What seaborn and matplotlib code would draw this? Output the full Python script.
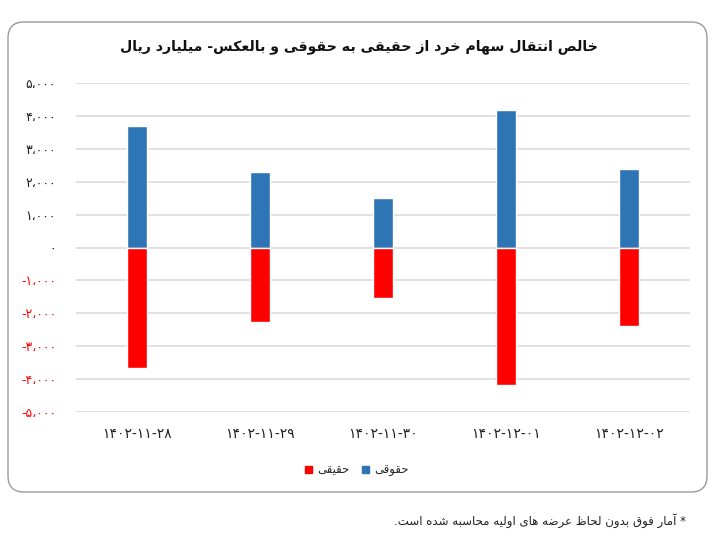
import pandas as pd
import matplotlib
matplotlib.use("Agg")
import matplotlib.pyplot as plt
import seaborn as sns
from matplotlib.patches import FancyBboxPatch, Patch
from matplotlib.ticker import FixedLocator

# داده ها (میلیارد ریال)
dates = ["1402-11-28", "1402-11-29", "1402-11-30", "1402-12-01", "1402-12-02"]
hoghoughi = [3680, 2290, 1510, 4180, 2380]      # آبی
haghighi = [-3670, -2270, -1520, -4190, -2390]  # قرمز

title_txt = "خالص انتقال سهام خرد از حقیقی به حقوقی و بالعکس- میلیارد ریال"
label_haghighi = "حقیقی"
label_hoghoughi = "حقوقی"
note_txt = "* آمار فوق بدون لحاظ عرضه های اولیه محاسبه شده است."

# شکل دهی ساده حروف فارسی (matplotlib خودش این کار را نمی کند)
FORMS = {
    "ا": ("\uFE8D", "\uFE8E"),
    "آ": ("\uFE81", "\uFE82"),
    "ب": ("\uFE8F", "\uFE90", "\uFE91", "\uFE92"),
    "ت": ("\uFE95", "\uFE96", "\uFE97", "\uFE98"),
    "ح": ("\uFEA1", "\uFEA2", "\uFEA3", "\uFEA4"),
    "خ": ("\uFEA5", "\uFEA6", "\uFEA7", "\uFEA8"),
    "د": ("\uFEA9", "\uFEAA"),
    "ر": ("\uFEAD", "\uFEAE"),
    "ز": ("\uFEAF", "\uFEB0"),
    "س": ("\uFEB1", "\uFEB2", "\uFEB3", "\uFEB4"),
    "ش": ("\uFEB5", "\uFEB6", "\uFEB7", "\uFEB8"),
    "ص": ("\uFEB9", "\uFEBA", "\uFEBB", "\uFEBC"),
    "ض": ("\uFEBD", "\uFEBE", "\uFEBF", "\uFEC0"),
    "ظ": ("\uFEC5", "\uFEC6", "\uFEC7", "\uFEC8"),
    "ع": ("\uFEC9", "\uFECA", "\uFECB", "\uFECC"),
    "ف": ("\uFED1", "\uFED2", "\uFED3", "\uFED4"),
    "ق": ("\uFED5", "\uFED6", "\uFED7", "\uFED8"),
    "ک": ("\uFB8E", "\uFB8F", "\uFB90", "\uFB91"),
    "ل": ("\uFEDD", "\uFEDE", "\uFEDF", "\uFEE0"),
    "م": ("\uFEE1", "\uFEE2", "\uFEE3", "\uFEE4"),
    "ن": ("\uFEE5", "\uFEE6", "\uFEE7", "\uFEE8"),
    "ه": ("\uFEE9", "\uFEEA", "\uFEEB", "\uFEEC"),
    "و": ("\uFEED", "\uFEEE"),
    "ی": ("\uFBFC", "\uFBFD", "\uFBFE", "\uFBFF"),
}
LAM_ALEF = {"ا": ("\uFEFB", "\uFEFC"), "آ": ("\uFEF5", "\uFEF6")}


def fa(text):
    out = []
    i = 0
    n = len(text)
    while i < n:
        c = text[i]
        if c not in FORMS:
            out.append(c)
            i += 1
            continue
        prev = text[i - 1] if i > 0 else ""
        joins_prev = prev in FORMS and len(FORMS[prev]) == 4
        nxt = text[i + 1] if i + 1 < n else ""
        if c == "ل" and nxt in LAM_ALEF:
            out.append(LAM_ALEF[nxt][1 if joins_prev else 0])
            i += 2
            continue
        joins_next = len(FORMS[c]) == 4 and nxt in FORMS
        if joins_prev and joins_next:
            k = 3
        elif joins_prev:
            k = 1
        elif joins_next:
            k = 2
        else:
            k = 0
        out.append(FORMS[c][k])
        i += 1
    return "".join(out)[::-1]


DIG = str.maketrans("0123456789", "۰۱۲۳۴۵۶۷۸۹")


def fa_num(v):
    s = f"{abs(v):,}".replace(",", "،").translate(DIG)
    return ("-" + s) if v < 0 else s


df = pd.DataFrame({
    "date": [d.translate(DIG) for d in dates],
    "hoghoughi": hoghoughi,
    "haghighi": haghighi,
})

sns.set_theme(style="white")
plt.rcParams["font.family"] = ["DejaVu Sans"]

blue = "#2E75B6"
red = "#FF0000"

fig = plt.figure(figsize=(7.18, 5.38), dpi=100)
ax = fig.add_axes([75.5 / 718, 1 - 412 / 538, 615 / 718, 329 / 538])

sns.barplot(data=df, x="date", y="hoghoughi", color=blue, width=0.17,
            saturation=1, errorbar=None, ax=ax, zorder=3)
sns.barplot(data=df, x="date", y="haghighi", color=red, width=0.17,
            saturation=1, errorbar=None, ax=ax, zorder=3)

ax.set_ylim(-5000, 5000)
yt = list(range(-5000, 5001, 1000))
ax.yaxis.set_major_locator(FixedLocator(yt))
ax.set_yticklabels([fa_num(v) for v in yt])
for lab, v in zip(ax.get_yticklabels(), yt):
    lab.set_color(red if v < 0 else "#222222")
ax.grid(True, axis="y", color="#D9D9D9", lw=1.1, zorder=0)
ax.set_axisbelow(True)
for s in ax.spines.values():
    s.set_visible(False)
ax.tick_params(axis="y", length=0, pad=14, labelsize=9)
ax.tick_params(axis="x", length=0, pad=11, labelsize=10, labelcolor="#222222")
ax.set_xlabel("")
ax.set_ylabel("")

fig.text(359 / 718, 1 - 47 / 538, fa(title_txt), ha="center", va="center",
         fontsize=10.2, fontweight="bold", color="#111111")

handles = [Patch(color=red, label=fa(label_haghighi)),
           Patch(color=blue, label=fa(label_hoghoughi))]
fig.legend(handles=handles, loc="center", bbox_to_anchor=(357 / 718, 1 - 470 / 538),
           ncol=2, frameon=False, fontsize=8.5, handlelength=0.6, handleheight=0.6,
           handletextpad=0.4, columnspacing=1.1)

box = FancyBboxPatch((0.08, 0.46), 6.99, 4.70, boxstyle="round,pad=0,rounding_size=0.16",
                     transform=fig.dpi_scale_trans, fill=False, edgecolor="#9A9A9A", lw=1)
fig.patches.append(box)

fig.text(686 / 718, 1 - 521 / 538, fa(note_txt), ha="right", va="center",
         fontsize=8.5, color="#222222")

fig.savefig("out.png", dpi=100)
